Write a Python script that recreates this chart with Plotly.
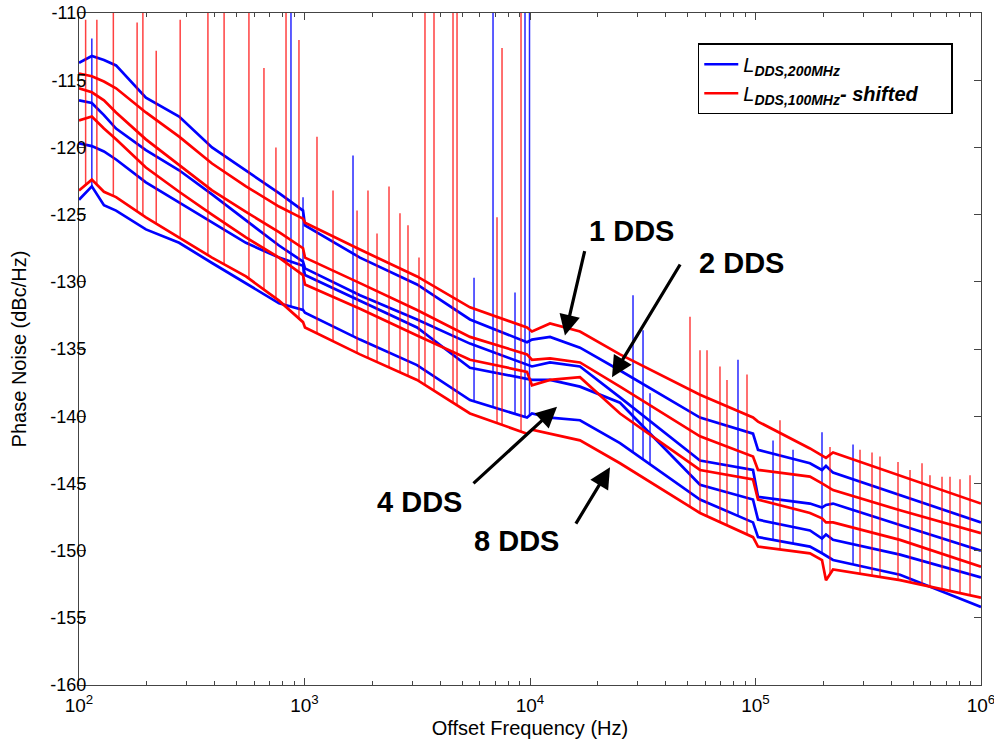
import numpy as np
import plotly.graph_objects as go

# ---------------- data ----------------
freq_hz = [100, 114, 129, 146, 198, 278, 389, 550, 771, 985,
           1005, 1762, 3155, 5418, 9700,
           10200, 12270, 16660, 25070, 56740, 97480,
           102600, 174400, 197200, 205400, 220700, 437300, 1000000]

blue_1dds = [-113.7, -113.2, -113.5, -113.9, -116.3, -117.7, -120.0, -121.7, -123.4, -124.7,
             -125.8, -128.2, -130.2, -132.8, -134.5,
             -134.3, -134.1, -134.9, -136.6, -140.1, -141.3,
             -142.5, -143.5, -144.0, -143.7, -144.2, -145.9, -147.9]
red_1dds = [-114.5, -114.7, -115.1, -115.6, -117.4, -119.2, -121.2, -122.9, -124.4, -125.3,
            -125.6, -127.6, -129.6, -131.9, -133.4,
            -133.7, -133.1, -133.7, -135.4, -138.4, -140.1,
            -140.4, -142.4, -142.9, -143.1, -142.7, -144.4, -146.5]
blue_2dds = [-116.5, -116.7, -117.6, -118.6, -120.2, -121.7, -123.5, -125.4, -127.3, -128.5,
             -129.0, -131.0, -132.8, -134.6, -136.2,
             -136.3, -136.0, -136.3, -138.6, -143.3, -144.0,
             -146.0, -146.5, -146.8, -146.6, -146.5, -148.1, -150.0]
red_2dds = [-115.6, -115.9, -116.5, -117.4, -119.4, -121.3, -123.2, -124.8, -126.3, -127.5,
            -128.2, -130.1, -132.1, -134.1, -135.4,
            -135.8, -135.7, -136.0, -137.8, -141.5, -143.0,
            -144.0, -144.5, -145.0, -145.2, -145.5, -147.0, -148.7]
blue_4dds = [-119.7, -119.9, -120.3, -120.9, -122.6, -124.1, -125.6, -127.1, -128.2, -128.8,
             -129.5, -131.4, -133.4, -136.4, -137.2,
             -137.3, -137.3, -137.8, -139.0, -145.1, -146.2,
             -147.7, -148.5, -149.1, -148.8, -149.2, -150.3, -152.0]
red_4dds = [-118.0, -117.7, -118.6, -119.4, -121.5, -123.3, -125.0, -126.7, -128.2, -129.5,
            -130.2, -132.0, -134.0, -135.8, -136.7,
            -137.7, -137.3, -137.1, -139.8, -144.0, -144.7,
            -146.2, -147.2, -147.6, -147.9, -147.9, -149.2, -151.2]
blue_8dds = [-123.9, -122.9, -124.3, -124.7, -126.1, -127.1, -128.6, -130.1, -131.6, -132.1,
             -132.3, -134.3, -136.2, -138.8, -140.1,
             -139.8, -140.1, -140.3, -142.0, -146.2, -147.9,
             -149.0, -149.7, -150.2, -150.4, -150.7, -151.8, -154.2]
red_8dds = [-123.2, -122.4, -123.3, -123.7, -125.2, -126.7, -128.2, -129.6, -131.4, -133.0,
            -133.4, -135.4, -137.3, -139.8, -141.3,
            -141.0, -141.3, -141.8, -143.5, -147.2, -149.0,
            -149.7, -150.2, -150.7, -152.2, -151.4, -152.2, -153.5]

# spurs: frequency and peak level (values above -110 are off-scale in the picture)
red_spur_hz = [107, 120, 142, 181, 192, 220, 281, 373, 440, 567, 661, 747, 828, 945,
               1136, 1338, 1710, 1912, 2097, 2370, 2651, 2877, 3219, 3422, 3752, 4556, 4747,
               7140, 7515, 9124,
               51230, 56740, 60950, 69580, 74740, 91690,
               128400, 214000, 290700, 328600, 356500, 428500, 484400, 547500, 593900,
               671600, 728700, 807100, 893900]
red_spur_db = [-110.5, -110.5, -105, -110.7, -105, -112.8, -110.5, -105, -105, -105, -114.1, -120.0, -105, -112.0,
               -119.2, -123.2, -124.7, -123.2, -126.4, -122.9, -124.9, -125.8, -128.2, -105, -105, -105, -105,
               -125.2, -112.6, -105,
               -132.6, -135.1, -135.1, -136.3, -137.3, -136.9,
               -140.3, -142.3, -142.5, -142.7, -143.0, -143.4, -144.0, -143.5, -144.4,
               -144.5, -144.5, -144.7, -144.4]
blue_spur_hz = [114, 871, 985, 1641, 5647, 6855, 8581, 9502, 9950,
                28630, 31710, 34060, 83630, 119600, 146700, 197200, 270700]
blue_spur_db = [-111.9, -105, -123.7, -120.6, -129.7, -105, -130.8, -105, -105,
                -131.0, -133.6, -138.3, -135.8, -141.8, -142.5, -141.2, -142.1]

y_tick_vals = [-160, -155, -150, -145, -140, -135, -130, -125, -120, -115, -110]
y_tick_text = [str(v) for v in y_tick_vals]
x_tick_vals = [1e2, 1e3, 1e4, 1e5, 1e6]
x_tick_text = ["10<sup>2</sup>", "10<sup>3</sup>", "10<sup>4</sup>", "10<sup>5</sup>", "10<sup>6</sup>"]

dds_labels = ["1 DDS", "2 DDS", "4 DDS", "8 DDS"]
label_hz = [28050, 86300, 3252, 8750]
label_db = [-126.2, -128.6, -146.4, -149.3]
arrow_head_hz = [14290, 23100, 13180, 22640]
arrow_head_db = [-134.0, -137.1, -139.3, -143.8]
arrow_tail_hz = [17540, 46750, 5530, 15830]
arrow_tail_db = [-127.6, -128.6, -145.1, -148.1]

# ---------------- figure ----------------
BLUE = "#0000ff"
RED = "#ff0000"
FONT = "Liberation Sans, Arial, sans-serif"

blue_series = [blue_1dds, blue_2dds, blue_4dds, blue_8dds]
red_series = [red_1dds, red_2dds, red_4dds, red_8dds]

leg_blue = "<i>L</i><sub><b><i>DDS,200MHz</i></b></sub>"
leg_red = "<i>L</i><sub><b><i>DDS,100MHz</i></b></sub><b><i>- shifted</i></b>&nbsp;&nbsp;&nbsp;&nbsp;&nbsp;"


def spur_trace(hz, top, series, color):
    logf = np.log10(freq_hz)
    floor = np.min(np.array(series), axis=0)
    xs, ys = [], []
    for f, t in zip(hz, top):
        base = float(np.interp(np.log10(f), logf, floor))
        xs += [f, f, None]
        ys += [base, t, None]
    return go.Scatter(x=xs, y=ys, mode="lines", line=dict(color=color, width=1.5),
                      showlegend=False, hoverinfo="skip")


fig = go.Figure()

for i, s in enumerate(blue_series):
    fig.add_trace(go.Scatter(x=freq_hz, y=s, mode="lines", line=dict(color=BLUE, width=2.7),
                             name=leg_blue, legendgroup="b", showlegend=(i == 0)))
fig.add_trace(spur_trace(blue_spur_hz, blue_spur_db, blue_series, "rgba(0,0,255,0.85)"))

for i, s in enumerate(red_series):
    fig.add_trace(go.Scatter(x=freq_hz, y=s, mode="lines", line=dict(color=RED, width=2.7),
                             name=leg_red, legendgroup="r", showlegend=(i == 0)))
fig.add_trace(spur_trace(red_spur_hz, red_spur_db, red_series, "rgba(255,0,0,0.75)"))

annotations = []
for txt, lx, ly in zip(dds_labels, label_hz, label_db):
    annotations.append(dict(x=np.log10(lx), y=ly, xref="x", yref="y", text="<b>" + txt + "</b>",
                            showarrow=False,
                            font=dict(family=FONT, size=29, color="black"),
                            xanchor="center", yanchor="middle"))
for hx, hy, tx, ty in zip(arrow_head_hz, arrow_head_db, arrow_tail_hz, arrow_tail_db):
    annotations.append(dict(x=np.log10(hx), y=hy, xref="x", yref="y",
                            ax=np.log10(tx), ay=ty, axref="x", ayref="y",
                            text="", showarrow=True, arrowhead=2, arrowsize=1.3,
                            arrowwidth=3.2, arrowcolor="black", standoff=0, startstandoff=0))

fig.update_layout(
    width=994, height=741,
    margin=dict(l=79, r=13, t=13, b=56),
    paper_bgcolor="white", plot_bgcolor="white",
    font=dict(family=FONT, size=18, color="black"),
    showlegend=True,
    legend=dict(x=0.686, y=0.955, xanchor="left", yanchor="top",
                bgcolor="white", bordercolor="black", borderwidth=1.5,
                font=dict(family=FONT, size=20, color="black"),
                itemwidth=34, tracegroupgap=0),
    annotations=annotations,
)

fig.update_xaxes(type="log", range=[2, 6], tickvals=x_tick_vals, ticktext=x_tick_text,
                 ticks="inside", ticklen=7, tickcolor="#444", tickwidth=1,
                 minor=dict(ticks="inside", ticklen=4, dtick="D1", tickcolor="#444", showgrid=False),
                 showline=True, linecolor="#444", linewidth=1.3, mirror="allticks",
                 showgrid=False, zeroline=False, automargin=False,
                 ticklabeloverflow="allow", ticklabelstandoff=3,
                 tickfont=dict(family=FONT, size=19),
                 title=dict(text="Offset Frequency (Hz)", font=dict(family=FONT, size=20), standoff=6))
fig.update_yaxes(range=[-160, -110], tickvals=y_tick_vals, ticktext=y_tick_text,
                 ticks="inside", ticklen=7, tickcolor="#444", tickwidth=1,
                 showline=True, linecolor="#444", linewidth=1.3, mirror="allticks",
                 showgrid=False, zeroline=False, automargin=False,
                 ticklabelstandoff=-12, ticklabeloverflow="allow",
                 tickfont=dict(family=FONT, size=18),
                 title=dict(text="Phase Noise (dBc/Hz)", font=dict(family=FONT, size=20), standoff=18))

# remove the default 8 px page margin so the 994x741 figure fills the window exactly
fig.write_html("out.html",
               config={"displayModeBar": False},
               post_script="document.body.style.margin='0';document.body.style.overflow='hidden';")
